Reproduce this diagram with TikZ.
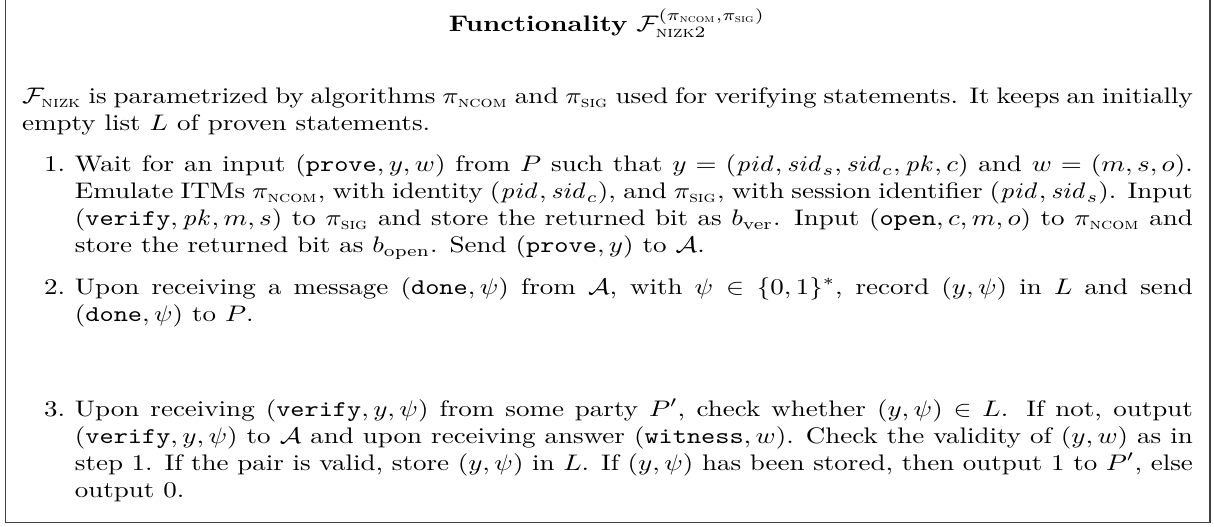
\documentclass[tikz,border=0pt]{standalone}
\usepackage{amsmath,amssymb}
\newcommand{\ncom}{\pi_{\text{\textsc{ncom}}}}
\newcommand{\psig}{\pi_{\text{\textsc{sig}}}}
\newcommand{\mt}[1]{\texttt{#1}}
\begin{document}
\begin{tikzpicture}[x=1pt,y=1pt,
  every node/.style={inner sep=0pt,outer sep=0pt},
  frame/.style={draw=black!75,line width=0.5pt},
  para/.style={anchor=base west,text width=#1,align=justify},
  num/.style={anchor=base east}]
\useasboundingbox (0,0) rectangle (539.6,-234.2);
\coordinate (tl) at (2.4,5);
\coordinate (bl) at (2.4,-232.4);
\coordinate (br) at (537.8,-232.4);
\coordinate (tr) at (537.8,5);
\draw[frame] (tl) -- (bl) -- (br) -- (tr);
\begin{scope}[xscale=1.2,every node/.append style={transform shape}]
\node[anchor=base] (title) at (224.8,-14.2) {\textbf{Functionality} $\mathcal{F}_{\text{\textsc{nizk}}2}^{(\ncom,\psig)}$};
\node[para=433.7pt] (intro) at (8.17,-46.2) {$\mathcal{F}_{\text{\textsc{nizk}}}$ is parametrized by algorithms $\ncom$ and $\psig$ used for verifying statements. It keeps an initially\\
empty list $L$ of proven statements.};
\node[num] (n1) at (24.1,-76.4) {1.};
\node[para=414.1pt] (i1) at (27.75,-76.4) {Wait for an input $(\mt{prove},y,w)$ from $P$ such that $y=(\mathit{pid},\mathit{sid}_s,\mathit{sid}_c,\mathit{pk},c)$ and $w=(m,s,o)$.\linebreak
Emulate ITMs $\ncom$, with identity $(\mathit{pid},\mathit{sid}_c)$, and $\psig$, with session identifier $(\mathit{pid},\mathit{sid}_s)$. Input\linebreak
$(\mt{verify},\mathit{pk},m,s)$ to $\psig$ and store the returned bit as $b_{\mathrm{ver}}$. Input $(\mt{open},c,m,o)$ to $\ncom$ and\linebreak
store the returned bit as $b_{\mathrm{open}}$. Send $(\mt{prove},y)$ to $\mathcal{A}$.};
\node[num] (n2) at (24.1,-130.7) {2.};
\node[para=414.1pt] (i2) at (27.75,-130.7) {Upon receiving a message $(\mt{done},\psi)$ from $\mathcal{A}$, with $\psi\in\{0,1\}^*$, record $(y,\psi)$ in $L$ and send\linebreak
$(\mt{done},\psi)$ to $P$.};
\node[num] (n3) at (24.1,-184.9) {3.};
\node[para=414.1pt] (i3) at (27.75,-184.9) {Upon receiving $(\mt{verify},y,\psi)$ from some party $P'$, check whether $(y,\psi)\in L$. If not, output\linebreak
$(\mt{verify},y,\psi)$ to $\mathcal{A}$ and upon receiving answer $(\mt{witness},w)$. Check the validity of $(y,w)$ as in\linebreak
step 1. If the pair is valid, store $(y,\psi)$ in $L$. If $(y,\psi)$ has been stored, then output 1 to $P'$, else\linebreak
output 0.};
\end{scope}
\end{tikzpicture}
\end{document}
